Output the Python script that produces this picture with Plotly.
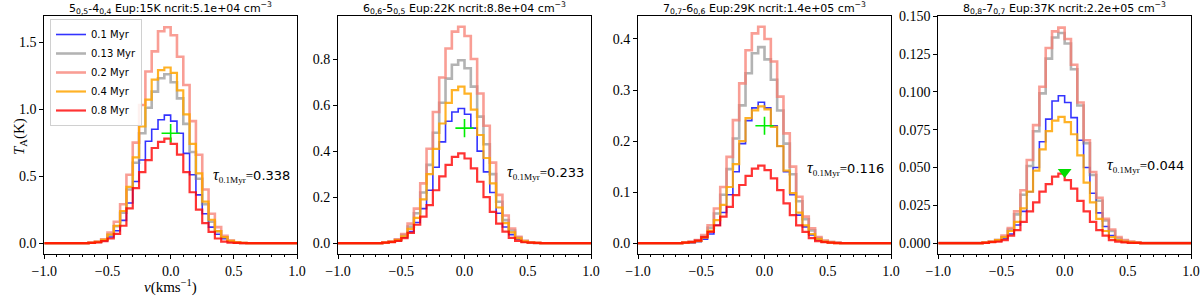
import plotly.graph_objects as go

# velocity channels (km/s)
v_kms = [-1.0, -0.95, -0.9, -0.85, -0.8, -0.75, -0.7, -0.65,
         -0.6, -0.55, -0.5, -0.45, -0.4, -0.35, -0.3, -0.25, -0.2, -0.15, -0.1, -0.05,
         0.0, 0.05, 0.1, 0.15, 0.2, 0.25, 0.3, 0.35, 0.4, 0.45, 0.5, 0.55, 0.6,
         0.65, 0.7, 0.75, 0.8, 0.85, 0.9, 0.95, 1.0]

ages = ["0.1 Myr", "0.13 Myr", "0.2 Myr", "0.4 Myr", "0.8 Myr"]

# Panel 1: 5(0,5)-4(0,4)
p1_blue = [0, 0, 0, 0, 0, 0, 0, 0,
           0.002, 0.007, 0.018, 0.046, 0.093, 0.17, 0.30, 0.46, 0.62, 0.76, 0.85, 0.92,
           0.955, 0.91, 0.82, 0.67, 0.51, 0.36, 0.22, 0.12, 0.067, 0.033, 0.012, 0.004, 0.001,
           0, 0, 0, 0, 0, 0, 0, 0]
p1_gray = [0, 0, 0, 0, 0, 0, 0, 0,
           0.003, 0.009, 0.024, 0.063, 0.126, 0.227, 0.40, 0.60, 0.82, 1.01, 1.13, 1.23,
           1.26, 1.20, 1.08, 0.89, 0.68, 0.48, 0.29, 0.16, 0.088, 0.044, 0.016, 0.005, 0.002,
           0, 0, 0, 0, 0, 0, 0, 0]
p1_pink = [0, 0, 0, 0, 0, 0, 0, 0,
           0.004, 0.012, 0.03, 0.08, 0.16, 0.29, 0.51, 0.75, 1.03, 1.28, 1.43, 1.58,
           1.61, 1.55, 1.39, 1.18, 0.91, 0.66, 0.40, 0.22, 0.12, 0.055, 0.02, 0.007, 0.002,
           0, 0, 0, 0, 0, 0, 0, 0]
p1_orange = [0, 0, 0, 0, 0, 0, 0, 0,
             0.003, 0.01, 0.025, 0.065, 0.13, 0.24, 0.42, 0.64, 0.87, 1.07, 1.22, 1.29,
             1.31, 1.27, 1.14, 0.96, 0.74, 0.52, 0.31, 0.175, 0.09, 0.045, 0.017, 0.006, 0.002,
             0, 0, 0, 0, 0, 0, 0, 0]
p1_red = [0, 0, 0, 0, 0, 0, 0, 0,
          0.002, 0.006, 0.016, 0.035, 0.07, 0.13, 0.26, 0.41, 0.53, 0.62, 0.71, 0.756,
          0.78, 0.74, 0.66, 0.53, 0.38, 0.25, 0.15, 0.085, 0.035, 0.012, 0.005, 0.002, 0.001,
          0, 0, 0, 0, 0, 0, 0, 0]

# Panel 2: 6(0,6)-5(0,5)
p2_blue = [0, 0, 0, 0, 0, 0, 0, 0,
           0.002, 0.005, 0.011, 0.025, 0.05, 0.09, 0.15, 0.23, 0.33, 0.44, 0.53, 0.57,
           0.585, 0.56, 0.50, 0.40, 0.31, 0.22, 0.13, 0.07, 0.037, 0.017, 0.006, 0.002, 0.001,
           0, 0, 0, 0, 0, 0, 0, 0]
p2_gray = [0, 0, 0, 0, 0, 0, 0, 0,
           0.002, 0.007, 0.015, 0.035, 0.072, 0.13, 0.22, 0.34, 0.48, 0.61, 0.715, 0.775,
           0.795, 0.76, 0.68, 0.55, 0.43, 0.30, 0.18, 0.10, 0.055, 0.024, 0.009, 0.003, 0.001,
           0, 0, 0, 0, 0, 0, 0, 0]
p2_pink = [0, 0, 0, 0, 0, 0, 0, 0,
           0.003, 0.008, 0.017, 0.04, 0.085, 0.15, 0.26, 0.41, 0.57, 0.72, 0.846, 0.919,
           0.94, 0.90, 0.80, 0.65, 0.51, 0.35, 0.21, 0.12, 0.064, 0.028, 0.01, 0.004, 0.001,
           0, 0, 0, 0, 0, 0, 0, 0]
p2_orange = [0, 0, 0, 0, 0, 0, 0, 0,
             0.002, 0.006, 0.013, 0.03, 0.062, 0.11, 0.19, 0.30, 0.41, 0.52, 0.61, 0.665,
             0.68, 0.65, 0.58, 0.47, 0.37, 0.26, 0.155, 0.087, 0.047, 0.021, 0.008, 0.003, 0.001,
             0, 0, 0, 0, 0, 0, 0, 0]
p2_red = [0, 0, 0, 0, 0, 0, 0, 0,
          0.002, 0.005, 0.01, 0.022, 0.045, 0.08, 0.115, 0.165, 0.23, 0.29, 0.34, 0.375,
          0.39, 0.368, 0.325, 0.267, 0.20, 0.136, 0.085, 0.05, 0.023, 0.01, 0.004, 0.002, 0.001,
          0, 0, 0, 0, 0, 0, 0, 0]

# Panel 3: 7(0,7)-6(0,6)
p3_blue = [0, 0, 0, 0, 0, 0, 0, 0,
           0.0, 0.001, 0.003, 0.008, 0.018, 0.035, 0.06, 0.095, 0.14, 0.195, 0.24, 0.265,
           0.276, 0.265, 0.23, 0.19, 0.14, 0.095, 0.055, 0.032, 0.016, 0.007, 0.003, 0.001, 0.0,
           0, 0, 0, 0, 0, 0, 0, 0]
p3_gray = [0, 0, 0, 0, 0, 0, 0, 0,
           0.001, 0.002, 0.005, 0.013, 0.03, 0.058, 0.095, 0.145, 0.205, 0.27, 0.333, 0.372,
           0.384, 0.36, 0.32, 0.26, 0.195, 0.135, 0.082, 0.047, 0.025, 0.01, 0.004, 0.002, 0.001,
           0, 0, 0, 0, 0, 0, 0, 0]
p3_pink = [0, 0, 0, 0, 0, 0, 0, 0,
           0.001, 0.003, 0.006, 0.016, 0.035, 0.068, 0.11, 0.169, 0.241, 0.313, 0.378, 0.411,
           0.424, 0.40, 0.356, 0.287, 0.215, 0.15, 0.091, 0.052, 0.029, 0.012, 0.005, 0.002, 0.001,
           0, 0, 0, 0, 0, 0, 0, 0]
p3_orange = [0, 0, 0, 0, 0, 0, 0, 0,
             0.001, 0.002, 0.004, 0.011, 0.024, 0.045, 0.075, 0.11, 0.155, 0.20, 0.245, 0.26,
             0.268, 0.262, 0.228, 0.19, 0.142, 0.098, 0.06, 0.035, 0.018, 0.008, 0.003, 0.001, 0.0,
             0, 0, 0, 0, 0, 0, 0, 0]
p3_red = [0, 0, 0, 0, 0, 0, 0, 0,
          0.001, 0.002, 0.005, 0.012, 0.022, 0.035, 0.052, 0.071, 0.094, 0.114, 0.132, 0.146,
          0.152, 0.143, 0.127, 0.104, 0.078, 0.055, 0.035, 0.022, 0.01, 0.004, 0.002, 0.001, 0.0,
          0, 0, 0, 0, 0, 0, 0, 0]

# Panel 4: 8(0,8)-7(0,7)
p4_blue = [0, 0, 0, 0, 0, 0, 0, 0,
           0.0003, 0.0007, 0.0015, 0.003, 0.006, 0.012, 0.021, 0.034, 0.05, 0.067, 0.082, 0.094,
           0.0975, 0.093, 0.083, 0.068, 0.05, 0.033, 0.02, 0.011, 0.005, 0.002, 0.001, 0.0005, 0.0002,
           0, 0, 0, 0, 0, 0, 0, 0]
p4_gray = [0, 0, 0, 0, 0, 0, 0, 0,
           0.0004, 0.001, 0.002, 0.004, 0.009, 0.019, 0.032, 0.051, 0.074, 0.099, 0.122, 0.136,
           0.139, 0.132, 0.115, 0.091, 0.066, 0.045, 0.028, 0.015, 0.008, 0.003, 0.0015, 0.0007, 0.0003,
           0, 0, 0, 0, 0, 0, 0, 0]
p4_pink = [0, 0, 0, 0, 0, 0, 0, 0,
           0.0005, 0.001, 0.002, 0.005, 0.01, 0.021, 0.035, 0.055, 0.078, 0.1034, 0.129, 0.140,
           0.1425, 0.135, 0.118, 0.093, 0.068, 0.047, 0.03, 0.016, 0.009, 0.004, 0.002, 0.001, 0.0005,
           0, 0, 0, 0, 0, 0, 0, 0]
p4_orange = [0, 0, 0, 0, 0, 0, 0, 0,
             0.0003, 0.0008, 0.002, 0.004, 0.008, 0.014, 0.023, 0.034, 0.048, 0.062, 0.074, 0.081,
             0.0835, 0.080, 0.072, 0.058, 0.040, 0.027, 0.016, 0.008, 0.004, 0.002, 0.001, 0.0005, 0.0002,
             0, 0, 0, 0, 0, 0, 0, 0]
p4_red = [0, 0, 0, 0, 0, 0, 0, 0,
          0.0002, 0.0006, 0.001, 0.002, 0.005, 0.0086, 0.014, 0.021, 0.027, 0.034, 0.039, 0.044,
          0.046, 0.0417, 0.036, 0.028, 0.021, 0.014, 0.0086, 0.005, 0.002, 0.001, 0.0005, 0.0002, 0.0001,
          0, 0, 0, 0, 0, 0, 0, 0]

panels = [
    [p1_blue, p1_gray, p1_pink, p1_orange, p1_red],
    [p2_blue, p2_gray, p2_pink, p2_orange, p2_red],
    [p3_blue, p3_gray, p3_pink, p3_orange, p3_red],
    [p4_blue, p4_gray, p4_pink, p4_orange, p4_red],
]

titles = [
    "5<sub>0,5</sub>-4<sub>0,4</sub> Eup:15K ncrit:5.1e+04 cm<sup>−3</sup>",
    "6<sub>0,6</sub>-5<sub>0,5</sub> Eup:22K ncrit:8.8e+04 cm<sup>−3</sup>",
    "7<sub>0,7</sub>-6<sub>0,6</sub> Eup:29K ncrit:1.4e+05 cm<sup>−3</sup>",
    "8<sub>0,8</sub>-7<sub>0,7</sub> Eup:37K ncrit:2.2e+05 cm<sup>−3</sup>",
]
tau_values = ["0.338", "0.233", "0.116", "0.044"]
marker_v = [0.0, 0.0, 0.0, 0.0]
marker_T = [0.82, 0.50, 0.23, 0.047]
marker_symbols = ["cross-thin", "cross-thin", "cross-thin", "triangle-down"]

y_ranges = [[-0.0805, 1.694], [-0.047, 0.987], [-0.0212, 0.445], [-0.0072, 0.1502]]
y_dticks = [0.5, 0.2, 0.1, 0.025]
y_formats = [".1f", ".1f", ".1f", ".3f"]

colors = ["rgba(0,0,255,0.8)", "rgba(128,128,128,0.6)", "rgba(246,120,108,0.72)",
          "rgba(255,165,0,0.85)", "rgba(255,0,0,0.8)"]
widths = [1.6, 2.6, 2.6, 2.2, 2.2]

W, H = 1200, 297
x_dom_px = [(44.3, 297.0), (338.0, 591.0), (638.0, 891.0), (938.3, 1191.0)]
y_top_px, y_bot_px = 16.0, 254.0

serif = "Liberation Serif"
sans = "DejaVu Sans"

fig = go.Figure()
for p in range(4):
    ax = "" if p == 0 else str(p + 1)
    for s in range(5):
        fig.add_trace(go.Scatter(
            x=v_kms, y=panels[p][s], mode="lines",
            line=dict(color=colors[s], width=widths[s], shape="vh"),
            name=ages[s], showlegend=(p == 0), legendgroup=ages[s],
            xaxis="x" + ax, yaxis="y" + ax, hoverinfo="skip"))
    sym = marker_symbols[p]
    if sym == "cross-thin":
        mk = dict(symbol=sym, size=13, line=dict(color="#00ee00", width=1.6), color="#00ee00")
    else:
        mk = dict(symbol=sym, size=12, color="#00dd00", line=dict(width=0))
    fig.add_trace(go.Scatter(x=[marker_v[p]], y=[marker_T[p]], mode="markers",
                             marker=mk, showlegend=False,
                             xaxis="x" + ax, yaxis="y" + ax, hoverinfo="skip"))

axis_common = dict(showline=True, mirror=True, linecolor="black", linewidth=1,
                   ticks="outside", ticklen=4, tickwidth=1, tickcolor="black",
                   showgrid=False, zeroline=False, automargin=False,
                   tickfont=dict(family=serif, size=14, color="black"))

layout = dict(width=W, height=H,
              margin=dict(l=0, r=0, t=0, b=0, pad=0, autoexpand=False),
              plot_bgcolor="white", paper_bgcolor="white",
              showlegend=True,
              legend=dict(x=50 / W, y=1 - 19 / H, xanchor="left", yanchor="top",
                          bgcolor="rgba(255,255,255,0.85)", bordercolor="#d0d0d0", borderwidth=1,
                          font=dict(family=sans, size=10, color="black"),
                          itemwidth=30, tracegroupgap=0))
annotations = []
for p in range(4):
    ax = "" if p == 0 else str(p + 1)
    x0, x1 = x_dom_px[p]
    layout["xaxis" + ax] = dict(
        domain=[x0 / W, x1 / W], range=[-1.0, 1.0], anchor="y" + ax,
        dtick=0.5, tick0=-1.0, tickformat=".1f",
        minor=dict(dtick=0.1, tick0=-1.0, ticks="outside", ticklen=2, tickcolor="black", showgrid=False),
        **axis_common)
    layout["yaxis" + ax] = dict(
        domain=[1 - y_bot_px / H, 1 - y_top_px / H], range=y_ranges[p], anchor="x" + ax,
        dtick=y_dticks[p], tick0=0, tickformat=y_formats[p], **axis_common)
    xc = (x0 + x1) / 2 / W
    annotations.append(dict(text=titles[p], x=xc, y=1 - 8.0 / H, xref="paper", yref="paper",
                            xanchor="center", yanchor="middle", showarrow=False,
                            font=dict(family=sans, size=11, color="black")))
tau_pos = [(292, 175), (586, 172), (886, 168), (1186, 165)]
for p in range(4):
    tx, ty = tau_pos[p]
    annotations.append(dict(
        text='<span style="font-family:Liberation Serif;font-size:16px"><i>τ</i></span>'
             '<span style="font-family:Liberation Serif"><sub>0.1Myr</sub>=</span>' + tau_values[p],
        x=tx / W, y=1 - ty / H, xref="paper", yref="paper",
        xanchor="right", yanchor="middle", showarrow=False,
        font=dict(family=sans, size=13, color="black")))
annotations.append(dict(text="<i>T</i><sub>A</sub>(K)", x=20 / W, y=1 - 137 / H,
                        xref="paper", yref="paper", textangle=-90, showarrow=False,
                        xanchor="center", yanchor="middle",
                        font=dict(family=serif, size=15, color="black")))
annotations.append(dict(text="<i>v</i>(kms<sup>−1</sup>)", x=170.6 / W, y=1 - 286 / H,
                        xref="paper", yref="paper", showarrow=False,
                        xanchor="center", yanchor="middle",
                        font=dict(family=serif, size=15, color="black")))
layout["annotations"] = annotations
fig.update_layout(**layout)
fig.write_html("out.html",
               config={"displayModeBar": False, "staticPlot": True},
               post_script="document.body.style.margin='0';document.body.style.padding='0';")
